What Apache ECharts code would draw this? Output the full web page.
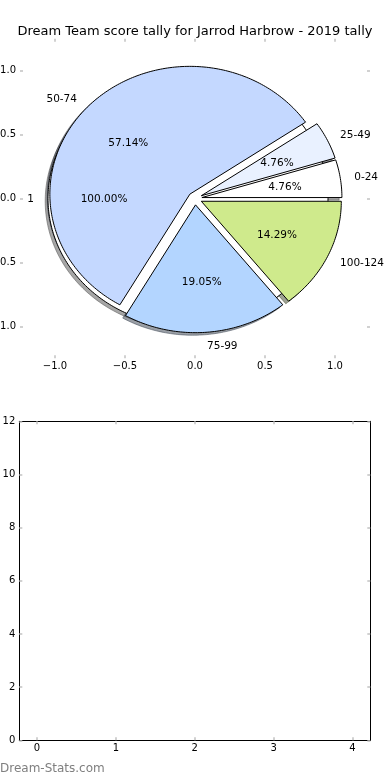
<!DOCTYPE html>
<html><head><meta charset="utf-8">
<script src="https://cdn.jsdelivr.net/npm/echarts@6/dist/echarts.min.js"></script>
<style>html,body{margin:0;padding:0;background:#fff}#c{width:390px;height:780px}</style>
</head><body><div id="c"></div>
<script>
// ---- data ----
const titleText = 'Dream Team score tally for Jarrod Harbrow - 2019 tally';
const categories = ['0-24', '25-49', '50-74', '75-99', '100-124'];
const tallies = [1, 1, 12, 4, 3];
const totalCategories = ['1'];
const totalTallies = [1];
const pieXTicks = [-1, -0.5, 0, 0.5, 1];
const pieYTicks = [-1, -0.5, 0, 0.5, 1];
const barXTicks = [0, 1, 2, 3, 4];
const barYTicks = [0, 2, 4, 6, 8, 10, 12];

// ---- styles ----
const sliceColors = ['#ffffff', '#e9f1ff', '#c4d8ff', '#b3d5ff', '#cfea8c'];
const totalColors = ['#ffffff'];
const FONT = '"DejaVu Sans", sans-serif';
const EXPLODE = 0.05, LABEL_D = 1.1, PCT_D = 0.6;

function buildWedges(names, vals, colors, pieIdx) {
  const tot = vals.reduce((a, b) => a + b, 0);
  let cum = 0;
  return vals.map((v, i) => {
    const s = cum / tot * 360; cum += v;
    const e = cum / tot * 360;
    return { pie: pieIdx, name: names[i], value: v, frac: v / tot, start: s, end: e, color: colors[i % colors.length] };
  });
}
const wedges = buildWedges(totalCategories, totalTallies, totalColors, 0)
  .concat(buildWedges(categories, tallies, sliceColors, 1));

function wedgePoints(w, api, dx, dy) {
  const mid = (w.start + w.end) / 2 * Math.PI / 180;
  const ox = EXPLODE * Math.cos(mid) + dx, oy = EXPLODE * Math.sin(mid) + dy;
  const full = Math.abs(w.end - w.start - 360) < 1e-9;
  const pts = [];
  if (!full) pts.push(api.coord([ox, oy]));
  const n = Math.max(2, Math.ceil(w.end - w.start));
  for (let k = 0; k <= n; k++) {
    const a = (w.start + (w.end - w.start) * k / n) * Math.PI / 180;
    pts.push(api.coord([ox + Math.cos(a), oy + Math.sin(a)]));
  }
  return pts;
}
function shade(hex) {
  const r = parseInt(hex.slice(1, 3), 16), g = parseInt(hex.slice(3, 5), 16), b = parseInt(hex.slice(5, 7), 16);
  return 'rgba(' + Math.round(r * 0.3) + ',' + Math.round(g * 0.3) + ',' + Math.round(b * 0.3) + ',0.5)';
}
function fmtPie(v) { return (v < 0 ? '\u2212' : '') + Math.abs(v).toFixed(1); }

const tickStyle = (vals) => ({ show: true, inside: true, length: 3, customValues: vals, lineStyle: { color: '#c2c2c2', width: 1.5 } });
const lblStyle = (vals, fmt, margin) => ({ show: true, customValues: vals, formatter: fmt, margin: margin, fontSize: 10, color: '#000', fontFamily: FONT });
const noLine = { show: false, onZero: false };
const blackLine = { show: true, onZero: false, lineStyle: { color: '#000', width: 1 } };

const option = {
  animation: false,
  backgroundColor: '#fff',
  title: { text: titleText, left: 'center', top: 20, textStyle: { fontFamily: FONT, fontSize: 13, fontWeight: 'normal', color: '#000' } },
  grid: [
    { left: 20, top: 38.75, width: 350, height: 319.5, containLabel: false, outerBoundsMode: 'none' },
    { left: 19.3, top: 421.3, width: 351, height: 319, containLabel: false, outerBoundsMode: 'none' }
  ],
  xAxis: [
    { gridIndex: 0, type: 'value', min: -1.25, max: 1.25, position: 'bottom', axisLine: noLine, splitLine: { show: false },
      axisTick: tickStyle(pieXTicks), axisLabel: lblStyle(pieXTicks, fmtPie, 3) },
    { gridIndex: 0, type: 'value', min: -1.25, max: 1.25, position: 'top', axisLine: noLine, splitLine: { show: false },
      axisTick: tickStyle(pieXTicks), axisLabel: { show: false } },
    { gridIndex: 1, type: 'value', min: -0.225, max: 4.225, position: 'bottom', axisLine: blackLine, splitLine: { show: false },
      axisTick: tickStyle(barXTicks), axisLabel: lblStyle(barXTicks, v => String(v), 3) },
    { gridIndex: 1, type: 'value', min: -0.225, max: 4.225, position: 'top', axisLine: blackLine, splitLine: { show: false },
      axisTick: tickStyle(barXTicks), axisLabel: { show: false } }
  ],
  yAxis: [
    { gridIndex: 0, type: 'value', min: -1.25, max: 1.25, position: 'left', axisLine: noLine, splitLine: { show: false },
      axisTick: tickStyle(pieYTicks), axisLabel: lblStyle(pieYTicks, fmtPie, 4) },
    { gridIndex: 0, type: 'value', min: -1.25, max: 1.25, position: 'right', axisLine: noLine, splitLine: { show: false },
      axisTick: tickStyle(pieYTicks), axisLabel: { show: false } },
    { gridIndex: 1, type: 'value', min: 0, max: 12, interval: 2, position: 'left', axisLine: blackLine, splitLine: { show: false },
      axisTick: tickStyle(barYTicks), axisLabel: lblStyle(barYTicks, v => String(v), 4) },
    { gridIndex: 1, type: 'value', min: 0, max: 12, interval: 2, position: 'right', axisLine: blackLine, splitLine: { show: false },
      axisTick: tickStyle(barYTicks), axisLabel: { show: false } }
  ],
  graphic: [
    { type: 'text', left: 0, top: 763, style: { text: 'Dream-Stats.com', fill: '#7f7f7f', font: '12px ' + FONT } }
  ],
  series: [
    { // shadows
      type: 'custom', coordinateSystem: 'cartesian2d', xAxisIndex: 0, yAxisIndex: 0, z: 1, silent: true, clip: false,
      data: wedges.map(w => [0, 0, w.value]),
      renderItem: (params, api) => {
        const w = wedges[params.dataIndex];
        const c = shade(w.color);
        return { type: 'polygon', shape: { points: wedgePoints(w, api, -0.02, -0.02) }, style: { fill: c, stroke: c, lineWidth: 1 } };
      }
    },
    { // wedges and texts
      type: 'custom', coordinateSystem: 'cartesian2d', xAxisIndex: 0, yAxisIndex: 0, z: 2, silent: true, clip: false,
      data: wedges.map(w => [0, 0, w.value]),
      renderItem: (params, api) => {
        const w = wedges[params.dataIndex];
        const mid = (w.start + w.end) / 2 * Math.PI / 180;
        const ox = EXPLODE * Math.cos(mid), oy = EXPLODE * Math.sin(mid);
        const lp = api.coord([ox + LABEL_D * Math.cos(mid), oy + LABEL_D * Math.sin(mid)]);
        const pp = api.coord([ox + PCT_D * Math.cos(mid), oy + PCT_D * Math.sin(mid)]);
        const lx = ox + LABEL_D * Math.cos(mid);
        return { type: 'group', children: [
          { type: 'polygon', z2: params.dataIndex, shape: { points: wedgePoints(w, api, 0, 0) },
            style: { fill: w.color, stroke: '#000', lineWidth: 1, lineJoin: 'miter' } },
          { type: 'text', z2: 100, style: { text: w.name, x: lp[0], y: lp[1] + 1, fill: '#000', font: '10.5px ' + FONT,
            align: lx > 0 ? 'left' : 'right', verticalAlign: 'middle' } },
          { type: 'text', z2: 100, style: { text: (w.frac * 100).toFixed(2) + '%', x: pp[0], y: pp[1] + 1, fill: '#000', font: '10.5px ' + FONT,
            align: 'center', verticalAlign: 'middle' } }
        ] };
      }
    }
  ]
};
const chart = echarts.init(document.getElementById('c'), null, { renderer: 'canvas' });
chart.setOption(option);
</script></body></html>
